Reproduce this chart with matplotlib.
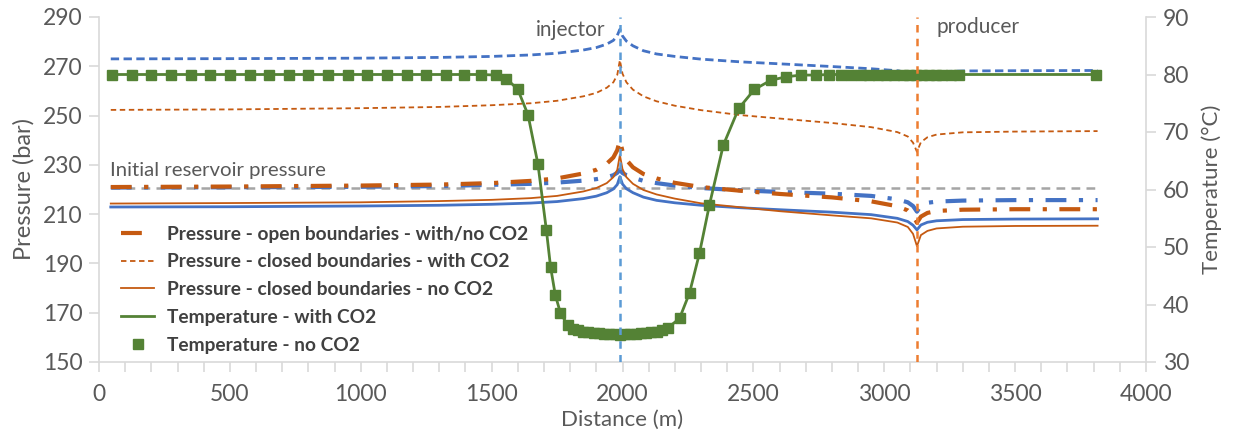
import numpy as np
import matplotlib
matplotlib.use("Agg")
import matplotlib.pyplot as plt
from matplotlib.ticker import MultipleLocator, FixedLocator

plt.rcParams['font.family'] = ['Lato', 'DejaVu Sans']

# --- data ---
dist_p = [45, 500, 1000, 1300, 1500, 1650, 1750, 1850, 1900, 1940, 1965, 1980, 1990,
          2000, 2015, 2040, 2080, 2130, 2200, 2300, 2450, 2600, 2800, 2950, 3050,
          3090, 3110, 3125, 3140, 3165, 3200, 3300, 3500, 3815]

p_closed_co2_blue = [273.0, 273.1, 273.3, 273.6, 274.0, 274.6, 275.3, 276.6, 277.6, 279.0, 280.5, 282.5, 285.0,
                     282.3, 280.2, 278.3, 276.3, 275.0, 274.0, 272.9, 271.8, 271.0, 269.9, 269.0, 268.2,
                     267.5, 266.7, 265.2, 266.7, 267.4, 267.8, 268.1, 268.2, 268.3]
p_closed_co2 = [252.3, 252.5, 253.0, 253.5, 254.2, 255.0, 256.0, 257.8, 259.2, 261.3, 263.5, 266.5, 272.5,
                267.0, 263.5, 260.5, 257.8, 255.8, 254.0, 252.2, 250.2, 248.8, 247.0, 245.3, 243.3,
                241.5, 239.0, 235.3, 239.2, 241.2, 242.3, 243.2, 243.5, 243.7]
p_open = [221.0, 221.2, 221.6, 222.0, 222.6, 223.5, 224.5, 226.5, 228.0, 230.5, 233.0, 236.0, 240.0,
          235.5, 232.0, 229.0, 226.3, 224.5, 222.7, 221.0, 219.5, 218.2, 216.8, 215.2, 213.2,
          211.5, 209.5, 206.5, 209.0, 210.5, 211.3, 211.8, 212.0, 212.0]
p_open_blue = [220.8, 220.9, 221.1, 221.4, 221.9, 222.3, 222.8, 223.6, 224.2, 225.0, 225.8, 226.8, 228.0,
               226.7, 225.8, 224.8, 223.5, 222.6, 221.6, 220.6, 219.7, 219.0, 218.3, 217.4, 216.0,
               214.8, 213.3, 211.0, 213.5, 214.6, 215.1, 215.5, 215.7, 215.7]
p_closed_noco2 = [214.3, 214.5, 214.8, 215.3, 215.8, 216.5, 217.4, 219.2, 220.6, 222.6, 225.0, 228.0, 234.0,
                  228.3, 225.0, 222.3, 219.8, 218.0, 216.3, 214.4, 212.8, 211.2, 209.5, 208.3, 206.6,
                  204.8, 202.0, 197.0, 201.5, 203.2, 204.2, 204.9, 205.2, 205.3]
p_closed_noco2_blue = [212.9, 213.0, 213.3, 213.6, 214.0, 214.5, 215.1, 216.3, 217.3, 218.7, 220.2, 222.0, 225.2,
                       222.2, 220.3, 218.7, 216.9, 215.6, 214.6, 213.6, 212.6, 211.8, 210.8, 209.8, 208.3,
                       207.0, 205.5, 203.6, 205.6, 206.7, 207.3, 207.8, 208.0, 208.1]

initial_pressure = 220.8

dist_t = [50, 125, 200, 275, 350, 425, 500, 575, 650, 725, 800, 875, 950, 1025, 1100, 1175,
          1250, 1325, 1395, 1460, 1515, 1556, 1600, 1639, 1677, 1709, 1725, 1743, 1763, 1791,
          1810, 1830, 1850, 1870, 1890, 1910, 1930, 1950, 1970, 1990, 2010, 2030, 2050, 2070,
          2090, 2110, 2130, 2150, 2173, 2218, 2256, 2294, 2332, 2385, 2444, 2504, 2567, 2625,
          2682, 2739, 2790, 2835, 2873, 2911, 2943, 2975, 3006, 3038, 3070, 3095, 3121, 3146,
          3172, 3197, 3222, 3254, 3286, 3810]
temp_no_co2 = [80.0, 80.0, 80.0, 80.0, 80.0, 80.0, 80.0, 80.0, 80.0, 80.0, 80.0, 80.0, 80.0, 80.0, 80.0, 80.0,
               80.0, 80.0, 80.0, 80.0, 79.9, 79.3, 77.4, 73.0, 64.4, 53.0, 46.6, 41.7, 38.5, 36.4,
               35.8, 35.5, 35.3, 35.2, 35.1, 35.0, 34.9, 34.9, 34.8, 34.7, 34.8, 34.9, 34.9, 35.0,
               35.1, 35.2, 35.3, 35.5, 35.9, 37.6, 42.0, 48.9, 57.3, 67.7, 74.1, 77.4, 79.0, 79.6,
               79.9, 79.9, 80.0, 80.0, 80.0, 80.0, 80.0, 80.0, 80.0, 80.0, 80.0, 80.0, 80.0, 80.0,
               80.0, 80.0, 80.0, 80.0, 80.0, 80.0]
temp_with_co2 = temp_no_co2

pressure_ticks = [150, 170, 190, 210, 230, 250, 270, 290]
temp_ticks = [30, 40, 50, 60, 70, 80, 90]

injector_x = 1990
producer_x = 3125

# --- colours ---
blue = '#4472C4'
orange = '#C55A11'
green = '#548235'
grey = '#A5A5A5'
txt = '#595959'
axis_col = '#D9D9D9'

fig = plt.figure(figsize=(12.39, 4.43), dpi=100)
ax = fig.add_axes([99 / 1239, 1 - 362 / 443, (1146 - 99) / 1239, (362 - 17) / 443])
ax2 = ax.twinx()

# pressure curves
ax.plot(dist_p, p_closed_co2_blue, color=blue, lw=2.0, dashes=(3, 1.6))
ax.plot(dist_p, p_closed_co2, color=orange, lw=1.3, dashes=(3, 2))
ax.plot([dist_p[0], dist_p[-1]], [initial_pressure] * 2, color=grey, lw=1.8, dashes=(3.5, 2.5))
ax.plot(dist_p, p_open_blue, color=blue, lw=3.0, dashes=(5, 3, 1, 3))
ax.plot(dist_p, p_open, color=orange, lw=3.0, dashes=(5, 3, 1, 3))
ax.plot(dist_p, p_closed_noco2_blue, color=blue, lw=2.0)
ax.plot(dist_p, p_closed_noco2, color=orange, lw=1.3)

# temperature
ax2.plot(dist_t, temp_with_co2, color=green, lw=2.0, zorder=3)
ax2.plot(dist_t, temp_no_co2, ls='none', marker='s', ms=7, color=green, zorder=3)

# wells
ax2.axvline(injector_x, color='#5B9BD5', lw=1.8, dashes=(3, 2.5), zorder=4)
ax2.axvline(producer_x, color='#ED7D31', lw=1.8, dashes=(3, 2.5), zorder=4)

ax.set_xlim(0, 4000)
ax.set_ylim(150, 290)
ax2.set_ylim(30, 90)
ax.xaxis.set_major_locator(MultipleLocator(500))
ax.xaxis.set_minor_locator(MultipleLocator(100))
ax.yaxis.set_major_locator(FixedLocator(pressure_ticks))
ax2.yaxis.set_major_locator(FixedLocator(temp_ticks))

for a in (ax, ax2):
    a.spines['top'].set_visible(False)
    for s in ('left', 'right', 'bottom'):
        a.spines[s].set_color(axis_col)
        a.spines[s].set_linewidth(1.2)
    a.tick_params(colors=axis_col, labelcolor=txt, labelsize=16.5, width=1.2, length=7)
ax.tick_params(axis='x', which='minor', colors=axis_col, width=1.2, length=7)
ax.tick_params(axis='x', pad=9)
ax.tick_params(axis='y', pad=5)
ax2.tick_params(axis='y', pad=5)
ax.spines['right'].set_visible(False)
ax2.spines['left'].set_visible(False)
ax2.spines['bottom'].set_visible(False)

ax.set_xlabel('Distance (m)', fontsize=16, color=txt, labelpad=3)
ax.set_ylabel('Pressure (bar)', fontsize=17, color=txt, labelpad=6)
ax2.set_ylabel('Temperature (°C)', fontsize=16, color=txt, labelpad=9)

ax.text(1935, 284.6, 'injector', fontsize=15, color=txt, ha='right', va='center')
ax.text(3200, 285.8, 'producer', fontsize=15, color=txt, ha='left', va='center')
ax.text(42, 227.8, 'Initial reservoir pressure', fontsize=14.7, color=txt, ha='left', va='center')

# legend (orange series + green)
handles = [
    plt.Line2D([], [], color=orange, lw=3.0, dashes=(5, 3, 1, 3)),
    plt.Line2D([], [], color=orange, lw=1.3, dashes=(3, 2)),
    plt.Line2D([], [], color=orange, lw=1.3),
    plt.Line2D([], [], color=green, lw=2.0),
    plt.Line2D([], [], color=green, ls='none', marker='s', ms=7),
]
labels = ['Pressure - open boundaries - with/no CO2',
          'Pressure - closed boundaries - with CO2',
          'Pressure - closed boundaries - no CO2',
          'Temperature - with CO2',
          'Temperature - no CO2']
leg = ax2.legend(handles, labels, loc='upper left', bbox_to_anchor=(0.005, 0.445),
                 frameon=False, handlelength=1.7, handletextpad=0.65, labelspacing=0.56,
                 prop={'size': 13.8, 'weight': 'bold'})
for t in leg.get_texts():
    t.set_color('#404040')

fig.savefig('out.png', dpi=100)
